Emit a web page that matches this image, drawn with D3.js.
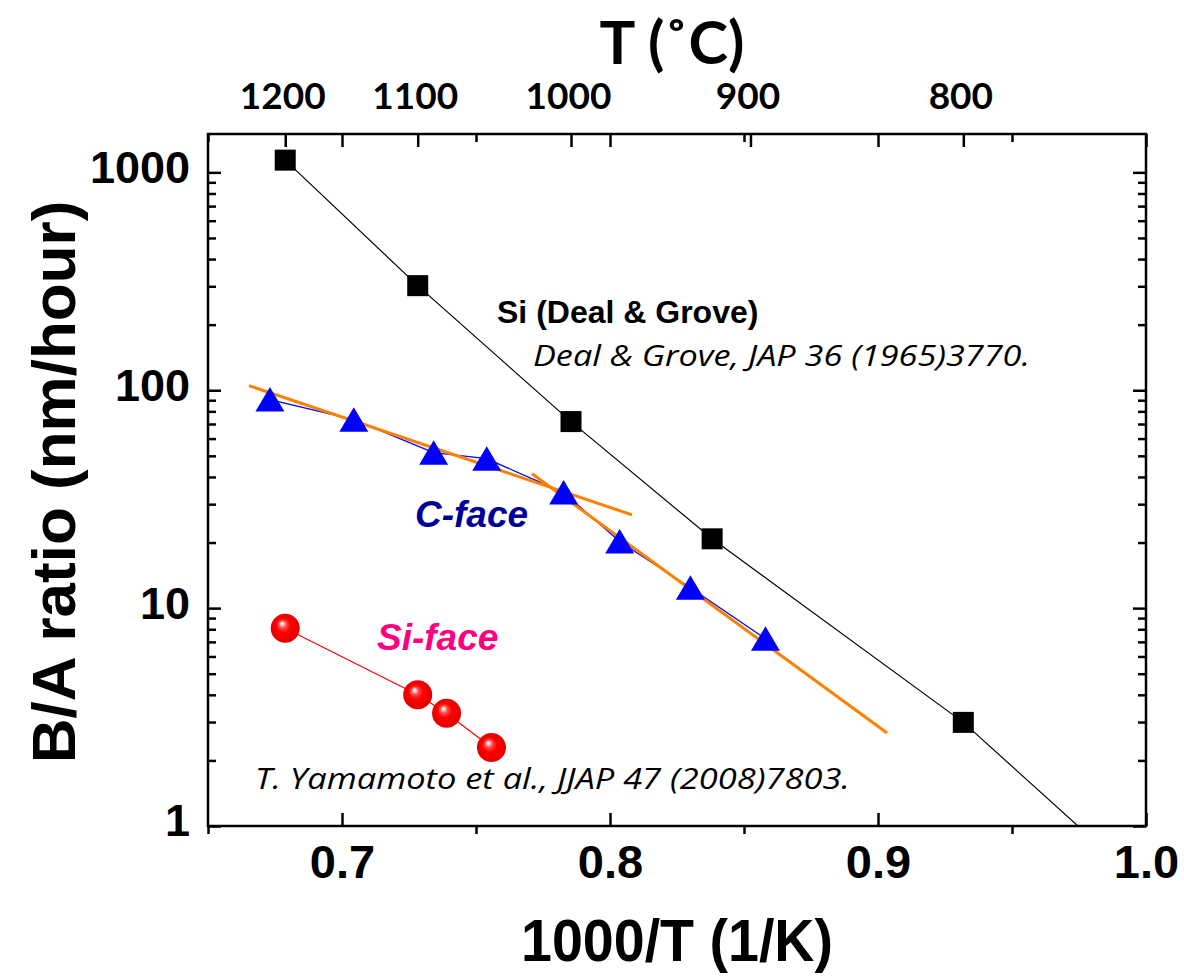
<!DOCTYPE html>
<html>
<head>
<meta charset="utf-8">
<script src="https://cdn.jsdelivr.net/npm/d3@7"></script>
<style>
  body { margin: 0; background: #fff; }
</style>
</head>
<body>
<div id="chart"></div>
<script>
// data
var siTempC = [1200, 1100, 1000, 920, 800, 700];
var siRatio = [1138, 302, 71.8, 20.8, 2.99, 0.258];

var cFaceInvT = [0.6731, 0.7044, 0.7342, 0.7540, 0.7827, 0.8036, 0.8300, 0.8580];
var cFaceRatio = [90.6, 73.3, 51.7, 48.5, 33.9, 20.2, 12.4, 7.23];

var siFaceTempC = [1200, 1100, 1080, 1050];
var siFaceRatio = [8.09, 4.0, 3.29, 2.29];

// orange fit lines (two end points each)
var fitHighInvT = [0.6653, 0.8082];
var fitHighRatio = [105, 26.8];
var fitLowInvT = [0.7709, 0.9034];
var fitLowRatio = [41.4, 2.67];

// ticks
var xMajor = [0.7, 0.8, 0.9, 1.0];
var xMinor = [0.65, 0.75, 0.85, 0.95];
var tempTicks = [1200, 1100, 1000, 900, 800];
var yMajor = [1, 10, 100, 1000];

var toInv = function(c) { return 1000 / (c + 273.15); };

var margin = {top: 134, right: 38, bottom: 150, left: 208},
  width = 1184 - margin.left - margin.right,
  height = 976 - margin.top - margin.bottom;

var svg = d3.select("#chart")
.append("svg")
  .attr("width", width + margin.left + margin.right)
  .attr("height", height + margin.top + margin.bottom)
.append("g")
  .attr("transform", "translate(" + margin.left + "," + margin.top + ")");

var x = d3.scaleLinear().domain([0.65, 1.0]).range([0, width]);
var y = d3.scaleLog().domain([1, 1500]).range([height, 0]);

var yMinor = [];
[1, 10, 100, 1000].forEach(function(d) {
  for (var k = 2; k <= 9; k++) if (d * k <= 1500) yMinor.push(d * k);
});

var numFont = "'Liberation Sans', Arial, sans-serif";
var calFont = "Lato, 'Open Sans', sans-serif";

// bottom axis
var bottomMajor = svg.append("g")
  .attr("transform", "translate(0," + height + ")")
  .call(d3.axisBottom(x).tickValues(xMajor).tickSize(-13).tickPadding(19)
    .tickFormat(d3.format(".1f")));
var bottomMinor = svg.append("g")
  .attr("transform", "translate(0," + height + ")")
  .call(d3.axisBottom(x).tickValues(xMinor).tickSize(8).tickFormat(""));

// top axis: mirrored 1000/T ticks + temperature ticks
var topMajor = svg.append("g")
  .call(d3.axisTop(x).tickValues(xMajor).tickSize(-13).tickFormat(""));
var topMinor = svg.append("g")
  .call(d3.axisTop(x).tickValues(xMinor).tickSize(-8).tickFormat(""));
var topTemp = svg.append("g")
  .call(d3.axisTop(x).tickValues(tempTicks.map(toInv)).tickSize(-13).tickPadding(25)
    .tickFormat(function(d) { return Math.round(1000 / d - 273.15); }));

// left / right axes
var leftMajor = svg.append("g")
  .call(d3.axisLeft(y).tickValues(yMajor).tickSize(-13).tickPadding(18)
    .tickFormat(d3.format("d")));
var leftMinor = svg.append("g")
  .call(d3.axisLeft(y).tickValues(yMinor).tickSize(-8).tickFormat(""));
var rightMajor = svg.append("g")
  .attr("transform", "translate(" + width + ",0)")
  .call(d3.axisRight(y).tickValues(yMajor).tickSize(-13).tickFormat(""));
var rightMinor = svg.append("g")
  .attr("transform", "translate(" + width + ",0)")
  .call(d3.axisRight(y).tickValues(yMinor).tickSize(-8).tickFormat(""));

svg.selectAll(".domain").remove();
svg.selectAll(".tick line").style("stroke", "#000").style("stroke-width", 2.5);

bottomMajor.selectAll("text")
  .style("font-family", numFont).style("font-weight", "bold")
  .style("font-size", "47px").attr("fill", "#000");
leftMajor.selectAll("text")
  .style("font-family", numFont).style("font-weight", "bold")
  .style("font-size", "45px").attr("fill", "#000")
  .attr("dy", "0.22em");
topTemp.selectAll("text")
  .style("font-family", calFont).style("font-weight", "bold")
  .style("font-size", "37px").attr("fill", "#000")
  .attr("dx", "-3");

// frame
svg.append("rect")
  .attr("width", width).attr("height", height)
  .attr("fill", "none").attr("stroke", "#000").attr("stroke-width", 2.5);

// clip for lines running out of the frame
svg.append("clipPath").attr("id", "plotclip")
  .append("rect").attr("width", width).attr("height", height);

var plot = svg.append("g").attr("clip-path", "url(#plotclip)");

// Si (Deal & Grove)
var siData = siTempC.map(function(t, i) { return {x: toInv(t), y: siRatio[i]}; });
var line = d3.line().x(function(d) { return x(d.x); }).y(function(d) { return y(d.y); });

plot.append("path").datum(siData)
  .attr("d", line).attr("fill", "none").attr("stroke", "#000").attr("stroke-width", 1.2);
plot.selectAll(".sq").data(siData).enter().append("rect")
  .attr("x", function(d) { return x(d.x) - 10.5; })
  .attr("y", function(d) { return y(d.y) - 10.5; })
  .attr("width", 21).attr("height", 21).attr("fill", "#000");

// C-face
var cData = cFaceInvT.map(function(v, i) { return {x: v, y: cFaceRatio[i]}; });
plot.append("path").datum(cData)
  .attr("d", line).attr("fill", "none").attr("stroke", "#0000ff").attr("stroke-width", 1.3);

// fit lines
[[fitHighInvT, fitHighRatio], [fitLowInvT, fitLowRatio]].forEach(function(f) {
  var pts = f[0].map(function(v, i) { return {x: v, y: f[1][i]}; });
  plot.append("path").datum(pts)
    .attr("d", line).attr("fill", "none").attr("stroke", "#ff8000").attr("stroke-width", 3);
});

plot.selectAll(".tri").data(cData).enter().append("path")
  .attr("d", "M0,-12.5L14.5,12L-14.5,12Z")
  .attr("transform", function(d) { return "translate(" + x(d.x) + "," + y(d.y) + ")"; })
  .attr("fill", "#0000ff");

// Si-face spheres
var defs = svg.append("defs");
var grad = defs.append("radialGradient").attr("id", "ball")
  .attr("cx", "0.5").attr("cy", "0.5").attr("r", "0.55")
  .attr("fx", "0.38").attr("fy", "0.33");
grad.append("stop").attr("offset", "0").attr("stop-color", "#ffffff");
grad.append("stop").attr("offset", "0.1").attr("stop-color", "#ffd0d0");
grad.append("stop").attr("offset", "0.22").attr("stop-color", "#ff5050");
grad.append("stop").attr("offset", "0.45").attr("stop-color", "#ff0000");
grad.append("stop").attr("offset", "1").attr("stop-color", "#dd0000");

var sfData = siFaceTempC.map(function(t, i) { return {x: toInv(t), y: siFaceRatio[i]}; });
plot.append("path").datum(sfData)
  .attr("d", line).attr("fill", "none").attr("stroke", "#ff0000").attr("stroke-width", 1.2);
plot.selectAll(".ball").data(sfData).enter().append("circle")
  .attr("cx", function(d) { return x(d.x); })
  .attr("cy", function(d) { return y(d.y); })
  .attr("r", 14.5).attr("fill", "url(#ball)");

// annotations (page coordinates)
var root = d3.select("#chart svg");
function label(txt, px, py, opts) {
  var t = root.append("text").attr("x", px).attr("y", py).text(txt)
    .style("font-family", opts.family || numFont)
    .style("font-size", opts.size + "px")
    .style("font-weight", opts.weight || "normal")
    .style("font-style", opts.style || "normal")
    .attr("fill", opts.fill || "#000");
  if (opts.len) t.attr("textLength", opts.len).attr("lengthAdjust", "spacingAndGlyphs");
  if (opts.anchor) t.attr("text-anchor", opts.anchor);
  return t;
}
label("Si (Deal & Grove)", 497, 323, {size: 32, weight: "bold"});
label("Deal & Grove, JAP 36 (1965)3770.", 533, 366,
  {size: 30, style: "italic", family: "'Open Sans', sans-serif", len: 497});
label("C-face", 415, 527, {size: 37, weight: "bold", style: "italic", fill: "#000099"});
label("Si-face", 377, 650, {size: 37, weight: "bold", style: "italic", fill: "#ff0080"});
label("T. Yamamoto et al., JJAP 47 (2008)7803.", 255, 789,
  {size: 30, style: "italic", family: "'Open Sans', sans-serif", len: 595});

// axis titles
label("1000/T (1/K)", margin.left + width / 2, 961,
  {size: 60, weight: "bold", anchor: "middle", len: 312});
label("T (\u02DAC)", 672, 64,
  {size: 60, weight: "bold", anchor: "middle", family: calFont, len: 145});
root.append("text")
  .attr("transform", "translate(75," + (margin.top + height / 2 + 2) + ") rotate(-90)")
  .attr("text-anchor", "middle")
  .style("font-family", numFont).style("font-weight", "bold").style("font-size", "62px")
  .attr("fill", "#000")
  .text("B/A ratio (nm/hour)");
</script>
</body>
</html>
